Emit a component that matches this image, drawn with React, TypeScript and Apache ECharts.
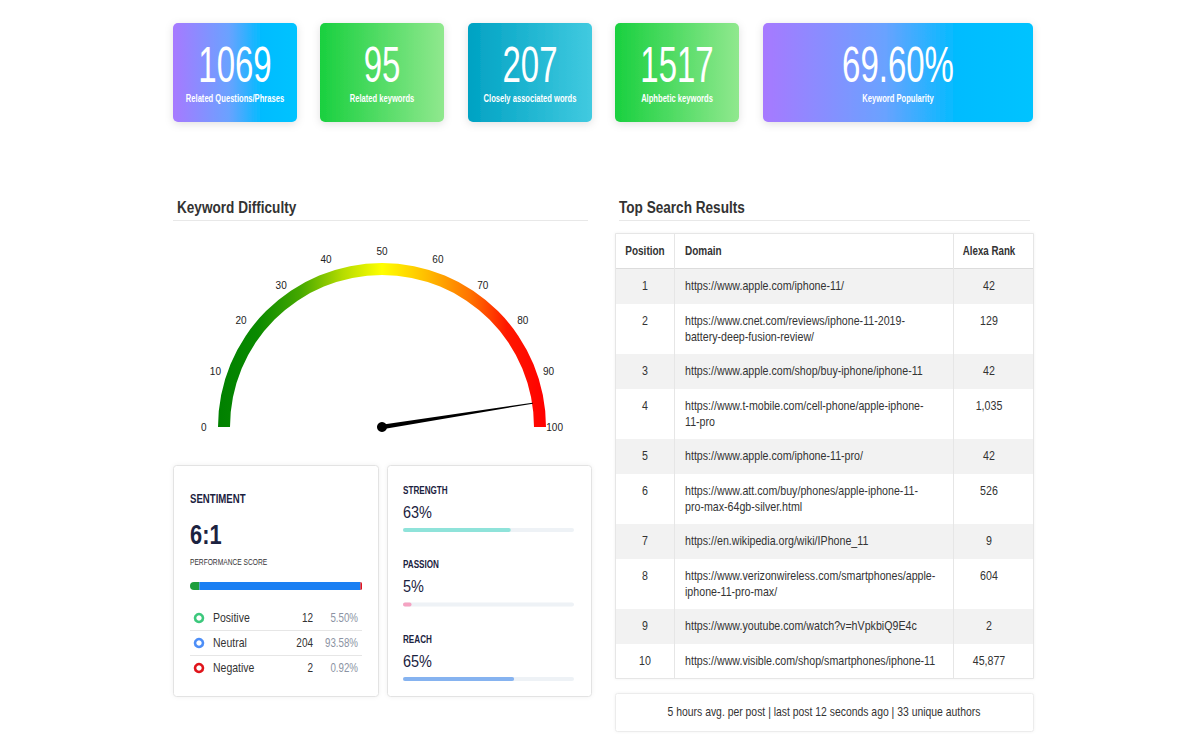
import React, { useEffect, useRef } from 'react';
import * as echarts from 'echarts';

// ---------------- DATA ----------------
const cardValues = ['1069', '95', '207', '1517', '69.60%'];
const cardLabels = ['Related Questions/Phrases', 'Related keywords', 'Closely associated words', 'Alphbetic keywords', 'Keyword Popularity'];

const gaugeTitle = 'Keyword Difficulty';
const gaugeValue = 95;
const gaugeMin = 0;
const gaugeMax = 100;
const gaugeSplits = 10;

const sentimentTitle = 'SENTIMENT';
const sentimentRatio = '6:1';
const sentimentSubtitle = 'PERFORMANCE SCORE';
const sentimentNames = ['Positive', 'Neutral', 'Negative'];
const sentimentCounts = [12, 204, 2];
const sentimentPercents = [5.5, 93.58, 0.92];

const metricNames = ['STRENGTH', 'PASSION', 'REACH'];
const metricValues = [63, 5, 65];

const tableTitle = 'Top Search Results';
const tableHeaders = ['Position', 'Domain', 'Alexa Rank'];
const positions = [1, 2, 3, 4, 5, 6, 7, 8, 9, 10];
const domains = [
  'https://www.apple.com/iphone-11/',
  'https://www.cnet.com/reviews/iphone-11-2019-battery-deep-fusion-review/',
  'https://www.apple.com/shop/buy-iphone/iphone-11',
  'https://www.t-mobile.com/cell-phone/apple-iphone-11-pro',
  'https://www.apple.com/iphone-11-pro/',
  'https://www.att.com/buy/phones/apple-iphone-11-pro-max-64gb-silver.html',
  'https://en.wikipedia.org/wiki/IPhone_11',
  'https://www.verizonwireless.com/smartphones/apple-iphone-11-pro-max/',
  'https://www.youtube.com/watch?v=hVpkbiQ9E4c',
  'https://www.visible.com/shop/smartphones/iphone-11',
];
const alexaRanks = [42, 129, 42, 1035, 42, 526, 9, 604, 2, 45877];
const footerText = '5 hours avg. per post | last post 12 seconds ago | 33 unique authors';

// ---------------- STYLE / LAYOUT ----------------
const FONT = "'Liberation Sans', Arial, sans-serif";
const NAVY = '#1b2240';
const TXT = '#333333';

const grad = (stops: [number, string][]) =>
  new echarts.graphic.LinearGradient(0, 0, 1, 0, stops.map(([offset, color]) => ({ offset, color })));
const purpleGrad = () => grad([[0, '#a779ff'], [0.45, '#6aa2ff'], [0.72, '#00bcff'], [1, '#00c3ff']]);
const greenGrad = () => grad([[0, '#19d03f'], [1, '#90e88e']]);
const tealGrad = () => grad([[0, '#00a2c3'], [1, '#41cae0']]);
const cardBoxes = [
  { x: 173, w: 124, fill: purpleGrad },
  { x: 320, w: 124, fill: greenGrad },
  { x: 468, w: 124, fill: tealGrad },
  { x: 615, w: 124, fill: greenGrad },
  { x: 763, w: 270, fill: purpleGrad },
];
const sentimentBarColors = ['#1c9e3c', '#1a7ff3', '#e3121b'];
const sentimentRingColors = ['#3cc87c', '#4d8ef7', '#e0141b'];
const metricColors = ['#8fe3da', '#f5a3c2', '#86b3f0'];

function wrapUrl(s: string, maxChars = 50): string[] {
  if (s.length <= maxChars) return [s];
  const cut = s.lastIndexOf('-', maxChars - 1);
  if (cut <= 0) return [s];
  return [s.slice(0, cut + 1), ...wrapUrl(s.slice(cut + 1), maxChars)];
}

function txt(x: number, y: number, text: string, o: any = {}) {
  return {
    type: 'text',
    x,
    y,
    z: 20,
    scaleX: o.sx ?? 0.8,
    silent: true,
    style: {
      text,
      fill: o.fill || TXT,
      fontFamily: FONT,
      fontSize: o.size || 12,
      fontWeight: o.weight || 'normal',
      align: o.align || 'left',
      verticalAlign: 'middle',
    },
  };
}
function rect(x: number, y: number, w: number, h: number, style: any, r = 0, z = 1) {
  return { type: 'rect', z, silent: true, shape: { x, y, width: w, height: h, r }, style };
}
function hline(x1: number, x2: number, y: number, color: string, z = 5) {
  return { type: 'line', z, silent: true, shape: { x1, y1: y, x2, y2: y }, style: { stroke: color, lineWidth: 1 } };
}
function vline(x: number, y1: number, y2: number, color: string, z = 5) {
  return { type: 'line', z, silent: true, shape: { x1: x, y1, x2: x, y2 }, style: { stroke: color, lineWidth: 1 } };
}

function buildOption() {
  const g: any[] = [];

  // top KPI cards
  cardValues.forEach((v, i) => {
    const b = cardBoxes[i];
    g.push(rect(b.x, 23, b.w, 99, { fill: b.fill(), shadowBlur: 8, shadowColor: 'rgba(0,0,0,0.12)', shadowOffsetY: 2 }, 5, 1));
    g.push(txt(b.x + b.w / 2, 65, v, { fill: '#ffffff', size: 50, sx: 0.66, align: 'center' }));
    g.push(txt(b.x + b.w / 2, 99, cardLabels[i], { fill: '#ffffff', size: 10, sx: 0.76, weight: 'bold', align: 'center' }));
  });

  // section headings
  g.push(txt(177, 207, gaugeTitle, { size: 17, weight: 'bold', fill: '#333', sx: 0.8 }));
  g.push(hline(173, 588, 220.5, '#e8e8e8'));
  g.push(txt(619, 207, tableTitle, { size: 17, weight: 'bold', fill: '#333', sx: 0.8 }));
  g.push(hline(619, 1030, 220.5, '#e8e8e8'));

  // sentiment card
  g.push(rect(173.5, 465.5, 205, 231, { fill: '#fff', stroke: '#e3e3e3', lineWidth: 1, shadowBlur: 4, shadowColor: 'rgba(0,0,0,0.06)' }, 3, 1));
  g.push(txt(190, 498, sentimentTitle, { size: 13, weight: 'bold', fill: NAVY, sx: 0.74 }));
  g.push(txt(190, 534, sentimentRatio, { size: 28, weight: 'bold', fill: NAVY, sx: 0.78 }));
  g.push(txt(190, 562, sentimentSubtitle, { size: 9.5, fill: '#333', sx: 0.7 }));
  sentimentNames.forEach((n, i) => {
    const y = 618 + i * 25;
    g.push({ type: 'circle', z: 20, silent: true, shape: { cx: 199, cy: y, r: 4 }, style: { fill: '#fff', stroke: sentimentRingColors[i], lineWidth: 2.6 } });
    g.push(txt(213, y, n, { size: 12.5, fill: '#333', sx: 0.84 }));
    g.push(txt(313, y, String(sentimentCounts[i]), { size: 12.5, fill: '#333', align: 'right', sx: 0.8 }));
    g.push(txt(358, y, sentimentPercents[i].toFixed(2) + '%', { size: 12.5, fill: '#8b93a3', align: 'right', sx: 0.78 }));
    if (i < sentimentNames.length - 1) g.push(hline(190, 362, y + 12.5, '#e6e6e6'));
  });

  // metrics card
  g.push(rect(387.5, 465.5, 204, 231, { fill: '#fff', stroke: '#e3e3e3', lineWidth: 1, shadowBlur: 4, shadowColor: 'rgba(0,0,0,0.06)' }, 3, 1));
  metricNames.forEach((n, i) => {
    const y0 = 490 + i * 74.5;
    g.push(txt(403, y0, n, { size: 11, weight: 'bold', fill: NAVY, sx: 0.74 }));
    g.push(txt(403, y0 + 22, metricValues[i] + '%', { size: 17, fill: NAVY, sx: 0.85 }));
  });

  // table
  const tx = 615, tw = 418, top = 233, headH = 35;
  const rowsLines = domains.map((d) => wrapUrl(d));
  const rowHeights = rowsLines.map((l) => (l.length > 1 ? 50 : 35));
  const tableBottom = top + headH + rowHeights.reduce((a, b) => a + b, 0);
  g.push(rect(tx + 0.5, top + 0.5, tw, tableBottom - top, { fill: '#fff', stroke: '#e6e6e6', lineWidth: 1, shadowBlur: 3, shadowColor: 'rgba(0,0,0,0.05)' }, 0, 1));
  g.push(txt(645, top + 17.5, tableHeaders[0], { size: 12.5, weight: 'bold', align: 'center', sx: 0.8 }));
  g.push(txt(685, top + 17.5, tableHeaders[1], { size: 12.5, weight: 'bold', sx: 0.8 }));
  g.push(txt(989, top + 17.5, tableHeaders[2], { size: 12.5, weight: 'bold', align: 'center', sx: 0.78 }));
  let y = top + headH;
  g.push(hline(tx + 1, tx + tw, y + 0.5, '#dcdcdc', 6));
  positions.forEach((p, i) => {
    const h = rowHeights[i];
    if (i % 2 === 0) g.push(rect(tx + 1, y + 1, tw - 1, h, { fill: '#f2f2f2' }, 0, 2));
    g.push(txt(645, y + 18, String(p), { size: 13, align: 'center', sx: 0.82 }));
    rowsLines[i].forEach((line, k) => g.push(txt(685, y + 18 + k * 16, line, { size: 13, sx: 0.82 })));
    g.push(txt(989, y + 18, alexaRanks[i].toLocaleString('en-US'), { size: 13, align: 'center', sx: 0.82 }));
    y += h;
  });
  g.push(vline(674.5, top + 1, tableBottom, '#e6e6e6', 6));
  g.push(vline(953.5, top + 1, tableBottom, '#e6e6e6', 6));

  // footer
  g.push(rect(tx + 0.5, 693.5, tw, 38, { fill: '#fff', stroke: '#ececec', lineWidth: 1, shadowBlur: 3, shadowColor: 'rgba(0,0,0,0.05)' }, 2, 1));
  g.push(txt(tx + tw / 2, 711, footerText, { size: 13, align: 'center', sx: 0.8 }));

  const gaugeGradient = grad([
    [0, '#008000'],
    [0.12, '#0a8a00'],
    [0.25, '#45a800'],
    [0.38, '#b5dc00'],
    [0.5, '#ffff00'],
    [0.63, '#ffc000'],
    [0.77, '#ff7200'],
    [0.88, '#ff1800'],
    [1, '#ff0000'],
  ]);

  return {
    animation: false,
    backgroundColor: '#ffffff',
    textStyle: { fontFamily: FONT },
    graphic: { elements: g },
    grid: [
      { left: 190, top: 582, width: 172, height: 8 },
      { left: 403, top: 492.75, width: 171, height: 223.5 },
    ],
    xAxis: [
      { type: 'value', gridIndex: 0, min: 0, max: 100, show: false },
      { type: 'value', gridIndex: 1, min: 0, max: 100, show: false },
    ],
    yAxis: [
      { type: 'category', gridIndex: 0, data: [sentimentSubtitle], show: false },
      { type: 'category', gridIndex: 1, data: metricNames, inverse: true, show: false },
    ],
    series: [
      {
        type: 'gauge',
        center: [382, 427],
        radius: 164,
        startAngle: 180,
        endAngle: 0,
        min: gaugeMin,
        max: gaugeMax,
        splitNumber: gaugeSplits,
        z: 3,
        axisLine: { show: true, roundCap: false, lineStyle: { width: 12, color: [[1, gaugeGradient]] } },
        axisTick: { show: false },
        splitLine: { show: false, length: 0, distance: 0 },
        axisLabel: { show: true, distance: -17, color: '#222', fontSize: 10, fontFamily: FONT },
        progress: { show: false },
        pointer: {
          show: true,
          icon: 'path://M1.6,0 L2.4,0 L4,100 L0,100 Z',
          length: '93%',
          width: 4.5,
          offsetCenter: [0, 0],
          itemStyle: { color: '#000000' },
        },
        anchor: { show: true, showAbove: true, size: 10, icon: 'circle', itemStyle: { color: '#000000' } },
        title: { show: false },
        detail: { show: false },
        data: [{ value: gaugeValue }],
      },
      ...sentimentNames.map((n, i) => ({
        type: 'bar',
        name: n,
        stack: 'sentiment',
        xAxisIndex: 0,
        yAxisIndex: 0,
        barWidth: 8,
        z: 5,
        itemStyle: {
          color: sentimentBarColors[i],
          borderRadius: i === 0 ? [4, 0, 0, 4] : i === sentimentNames.length - 1 ? [0, 4, 4, 0] : 0,
        },
        data: [sentimentPercents[i]],
      })),
      {
        type: 'bar',
        xAxisIndex: 1,
        yAxisIndex: 1,
        barWidth: 4,
        z: 5,
        showBackground: true,
        backgroundStyle: { color: '#eef2f6', borderRadius: 2 },
        itemStyle: { borderRadius: 2 },
        data: metricValues.map((v, i) => ({ value: v, itemStyle: { color: metricColors[i] } })),
      },
    ],
  };
}

export default function App() {
  const ref = useRef<HTMLDivElement>(null);
  useEffect(() => {
    if (!ref.current) return;
    const chart = echarts.init(ref.current, null, { renderer: 'svg', width: 1200, height: 750 });
    chart.setOption(buildOption() as any);
    return () => chart.dispose();
  }, []);
  return <div ref={ref} style={{ position: 'fixed', left: 0, top: 0, width: 1200, height: 750, background: '#fff' }} />;
}
